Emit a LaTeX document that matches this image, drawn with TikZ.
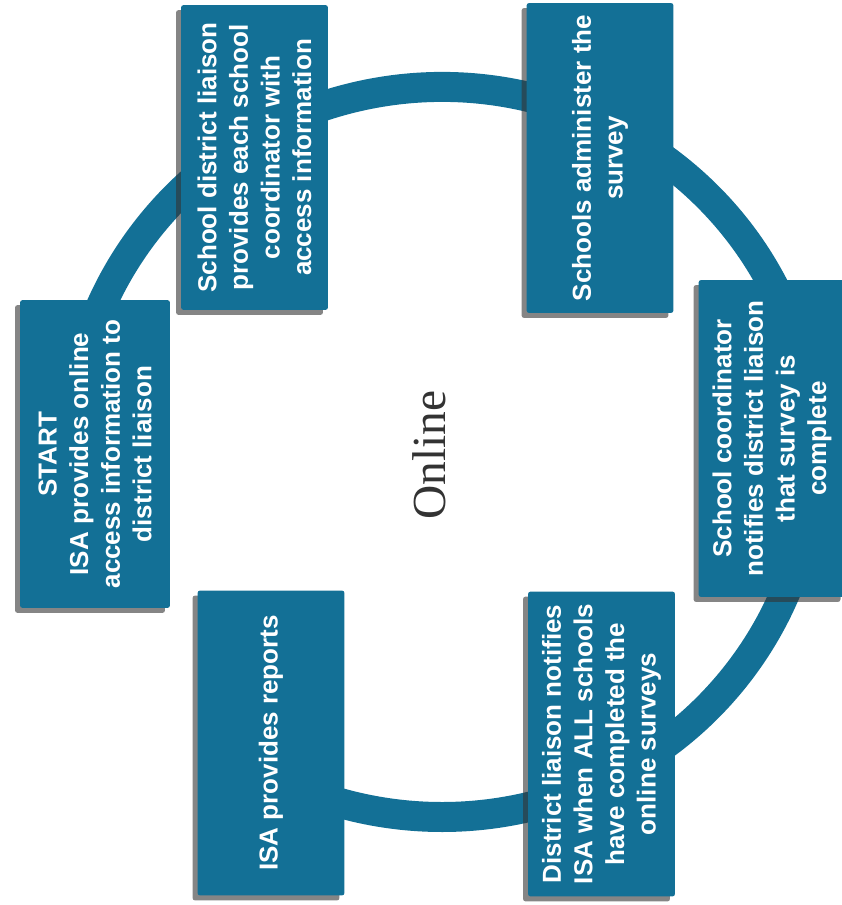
\documentclass[tikz,border=0pt]{standalone}
\usepackage{fontspec}
\setmainfont{Liberation Serif}
\setsansfont{Liberation Sans}
\usetikzlibrary{shadows}

\definecolor{ringblue}{RGB}{19,112,150}

\tikzset{
  stepbox/.style={rotate=90, fill=ringblue, rounded corners=1.5pt,
    minimum width=6.1cm, minimum height=2.94cm, inner sep=0pt,
    align=center, text=white,
    font=\sffamily\bfseries\fontsize{14.8}{18}\selectfont,
    drop shadow={shadow xshift=-0.1cm, shadow yshift=-0.1cm, fill=black!80, opacity=0.6}},
  ring/.style={draw=ringblue, line width=0.6cm}
}

\begin{document}
\begin{tikzpicture}[x=0.02cm, y=0.02cm]
\useasboundingbox (0,0) rectangle (841,-905);

\coordinate (hub) at (442,-452);
\draw[ring] (hub) ++(195:372 and 365) arc[start angle=195, end angle=-125, x radius=372, y radius=365];

\node[rotate=90, font=\fontsize{27}{32}\selectfont, text=black!80] (online) at (429,-455) {Online};

\node[stepbox, minimum width=6.16cm, minimum height=3cm] (start) at (95,-454)
  {START\\ISA provides online\\access information to\\district liaison};
\node[stepbox] (assign) at (254.5,-157.5)
  {School district liaison\\provides each school\\coordinator with\\access information};
\node[stepbox, minimum width=6.2cm] (administer) at (600,-158)
  {Schools administer the\\survey};
\node[stepbox, minimum width=6.34cm] (notify) at (772,-438.5)
  {School coordinator\\notifies district liaison\\that survey is\\complete};
\node[stepbox] (alldone) at (601.5,-744)
  {District liaison notifies\\ISA when ALL schools\\have completed the\\online surveys};
\node[stepbox] (reports) at (271,-743)
  {ISA provides reports};
\end{tikzpicture}
\end{document}
